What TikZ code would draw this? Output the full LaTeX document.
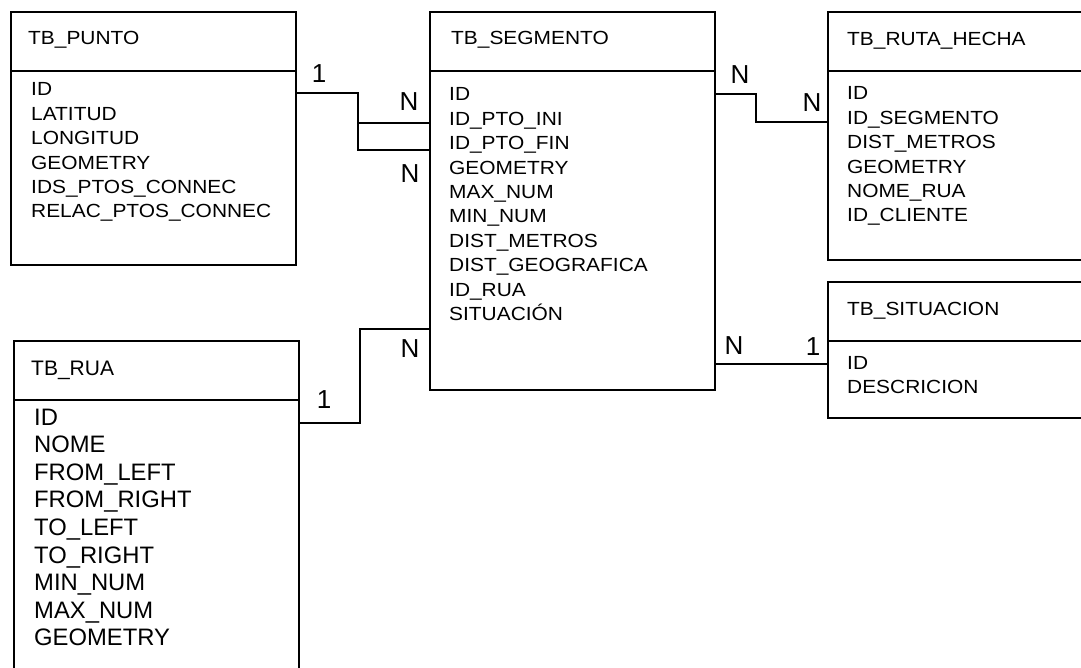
\documentclass[tikz,border=0pt]{standalone}
\usepackage{fontspec}
\setmainfont{Liberation Sans}
\newfontfamily\widefont[FakeStretch=1.1]{Liberation Sans}
\usetikzlibrary{positioning,calc}
\tikzset{
  hdr/.style={draw, line width=1.6pt, anchor=north west, minimum width=285pt,
              minimum height=59pt, inner sep=0pt, outer sep=0pt},
  tbl/.style={hdr, minimum height=#1},
  ttl/.style={anchor=base west, inner sep=0pt, font=\widefont\fontsize{19}{24}\selectfont},
  fld/.style={ttl},
  bigttl/.style={ttl, font=\fontsize{21}{26}\selectfont},
  bigfld/.style={ttl, font=\fontsize{23.8}{28}\selectfont},
  card/.style={inner sep=0pt, font=\fontsize{26}{30}\selectfont},
  link/.style={line width=1.6pt}
}

\begin{document}
\begin{tikzpicture}[x=1pt, y=-1pt]
  \clip (0,0) rectangle (1081,668);

  % tables
  \node[hdr] (punto) at (11,12) {};
  \node[tbl=194pt, below=0pt of punto] (punto-b) {};
  \node[hdr] (seg) at (430,12) {};
  \node[tbl=319pt, below=0pt of seg] (seg-b) {};
  \node[hdr] (rh) at (828,12) {};
  \node[tbl=189pt, below=0pt of rh] (rh-b) {};
  \node[hdr] (sit) at (828,282) {};
  \node[tbl=77pt, below=0pt of sit] (sit-b) {};
  \node[hdr] (rua) at (14,341) {};
  \node[tbl=300pt, below=0pt of rua] (rua-b) {};

  \node[ttl] (punto-t) at ($(punto.north west)+(17,33)$) {TB\_PUNTO};
  \node[ttl] (seg-t) at ($(seg.north west)+(21,33)$) {TB\_SEGMENTO};
  \node[ttl] (rh-t) at ($(rh.north west)+(19,34)$) {TB\_RUTA\_HECHA};
  \node[ttl] (sit-t) at ($(sit.north west)+(19,33)$) {TB\_SITUACION};
  \node[bigttl] (rua-t) at ($(rua.north west)+(17,34)$) {TB\_RUA};

  \foreach \f [count=\i from 0] in {ID,LATITUD,LONGITUD,GEOMETRY,
      IDS\_PTOS\_CONNEC,RELAC\_PTOS\_CONNEC}
    \node[fld] (punto-f\i) at ($(punto-b.north west)+(20,{25+24.4*\i})$) {\f};
  \foreach \f [count=\i from 0] in {ID,ID\_PTO\_INI,ID\_PTO\_FIN,GEOMETRY,MAX\_NUM,
      MIN\_NUM,DIST\_METROS,DIST\_GEOGRAFICA,ID\_RUA,SITUACIÓN}
    \node[fld] (seg-f\i) at ($(seg-b.north west)+(19,{30+24.4*\i})$) {\f};
  \foreach \f [count=\i from 0] in {ID,ID\_SEGMENTO,DIST\_METROS,GEOMETRY,
      NOME\_RUA,ID\_CLIENTE}
    \node[fld] (rh-f\i) at ($(rh-b.north west)+(19,{29+24.4*\i})$) {\f};
  \foreach \f [count=\i from 0] in {ID,DESCRICION}
    \node[fld] (sit-f\i) at ($(sit-b.north west)+(19,{28+24.4*\i})$) {\f};
  \foreach \f [count=\i from 0] in {ID,NOME,FROM\_LEFT,FROM\_RIGHT,TO\_LEFT,
      TO\_RIGHT,MIN\_NUM,MAX\_NUM,GEOMETRY}
    \node[bigfld] (rua-f\i) at ($(rua-b.north west)+(20,{25+27.6*\i})$) {\f};

  % relations
  \coordinate (pu-out) at ($(punto-b.north east)+(0,22)$);
  \coordinate (sg-ini) at ($(seg-b.north west)+(0,52)$);
  \coordinate (sg-fin) at ($(seg-b.north west)+(0,79)$);
  \coordinate (sg-rua) at ($(seg-b.north west)+(0,258)$);
  \coordinate (sg-rh) at ($(seg-b.north east)+(0,23)$);
  \coordinate (sg-sit) at ($(seg-b.north east)+(0,293)$);
  \coordinate (rh-in) at ($(rh-b.north west)+(0,51)$);
  \coordinate (sit-in) at ($(sit-b.north west)+(0,23)$);
  \coordinate (ru-out) at ($(rua-b.north east)+(0,23)$);

  \draw[link] (pu-out) -- ++(62,0) |- (sg-fin);
  \draw[link] (sg-ini) -- ++(-72,0);
  \draw[link] (sg-rh) -- ++(41,0) |- (rh-in);
  \draw[link] (sg-sit) -- (sit-in);
  \draw[link] (ru-out) -- ++(61,0) |- (sg-rua);

  \node[card] (c-pu) at (319,74) {1};
  \node[card] (c-ini) at (409,102) {N};
  \node[card] (c-fin) at (410,174) {N};
  \node[card] (c-rh1) at (740,75) {N};
  \node[card] (c-rh2) at (812,103) {N};
  \node[card] (c-sit1) at (734,346) {N};
  \node[card] (c-sit2) at (813,347) {1};
  \node[card] (c-rua1) at (410,349) {N};
  \node[card] (c-rua2) at (324,400) {1};
\end{tikzpicture}
\end{document}
